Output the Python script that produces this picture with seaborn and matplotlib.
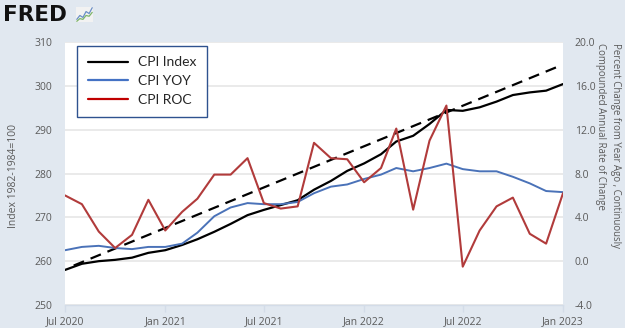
import numpy as np
import pandas as pd
import matplotlib
matplotlib.use("Agg")
import matplotlib.pyplot as plt
import matplotlib.dates as mdates
import seaborn as sns
from matplotlib.lines import Line2D

# ---------------- data ----------------
months = pd.date_range("2020-07-01", "2023-01-01", freq="MS")
cpi_index = [258.0, 259.4, 260.0, 260.3, 260.8, 261.9, 262.5, 263.7, 265.0, 266.7,
             268.5, 270.5, 271.7, 272.8, 273.9, 276.3, 278.3, 280.6, 282.3, 284.4,
             287.3, 288.6, 291.3, 294.5, 294.3, 295.1, 296.4, 297.9, 298.5, 298.9, 300.4]
cpi_yoy = [1.0, 1.3, 1.4, 1.2, 1.1, 1.3, 1.3, 1.6, 2.6, 4.1,
           4.9, 5.3, 5.2, 5.2, 5.4, 6.2, 6.8, 7.0, 7.5, 7.9,
           8.5, 8.2, 8.5, 8.9, 8.4, 8.2, 8.2, 7.7, 7.1, 6.4, 6.3]
cpi_roc = [6.0, 5.2, 2.7, 1.2, 2.4, 5.6, 2.8, 4.5, 5.7, 7.9,
           7.9, 9.4, 5.3, 4.8, 5.0, 10.8, 9.4, 9.3, 7.2, 8.5,
           12.1, 4.7, 11.0, 14.2, -0.5, 2.8, 5.0, 5.8, 2.5, 1.6, 6.2]
trend_dates = pd.to_datetime(["2020-07-17", "2022-12-27"])
trend_values = [259.0, 304.6]

left_ticks = [250, 260, 270, 280, 290, 300, 310]
right_ticks = [-4, 0, 4, 8, 12, 16, 20]
legend_labels = ["CPI Index", "CPI YOY", "CPI ROC"]
logo_a = [1, 2, 1.5, 3, 2.5, 4]
logo_b = [0.5, 1.2, 1.0, 2.0, 1.8, 2.8]

df = pd.DataFrame({"date": months, "index": cpi_index, "yoy": cpi_yoy, "roc": cpi_roc})
trend = pd.DataFrame({"date": trend_dates, "value": trend_values})

# ---------------- style ----------------
sns.set_theme(style="white")
plt.rcParams["font.family"] = ["Open Sans", "DejaVu Sans"]

BG = "#E1E8F0"
TICK = "#5A5A5A"
BLACK = "#000000"
BLUE = "#4A72B8"
RED = "#B13B3B"

fig = plt.figure(figsize=(6.25, 3.28), dpi=100, facecolor=BG)
ax = fig.add_axes([65 / 625, 1 - 305 / 328, 498 / 625, 263 / 328])
ax.set_facecolor("white")
ax2 = ax.twinx()
ax2.patch.set_visible(False)

# left axis series
sns.lineplot(data=df, x="date", y="index", ax=ax, color=BLACK, linewidth=1.6, legend=False)
sns.lineplot(data=trend, x="date", y="value", ax=ax, color=BLACK, linewidth=1.6,
             linestyle=(0, (5, 3.2)), legend=False)
# right axis series
sns.lineplot(data=df, x="date", y="yoy", ax=ax2, color=BLUE, linewidth=1.4, legend=False)
sns.lineplot(data=df, x="date", y="roc", ax=ax2, color=RED, linewidth=1.5, legend=False)

# axes limits / ticks
ax.set_xlim(pd.Timestamp("2020-07-01"), pd.Timestamp("2023-01-01"))
ax.set_ylim(250, 310)
ax2.set_ylim(-4, 20)
ax.set_yticks(left_ticks)
ax2.set_yticks(right_ticks)
ax2.set_yticklabels([f"{v:.1f}" for v in right_ticks])
ax.xaxis.set_major_locator(mdates.MonthLocator(bymonth=[1, 7]))
ax.xaxis.set_major_formatter(mdates.DateFormatter("%b %Y"))

for a in (ax, ax2):
    for s in a.spines.values():
        s.set_visible(False)
ax.spines["bottom"].set_visible(True)
ax.spines["bottom"].set_color("#D3DCE8")
ax.spines["bottom"].set_linewidth(1.0)

ax.grid(axis="y", color="#E8E8E8", linewidth=1.3)
ax.grid(axis="x", visible=False)
ax.set_axisbelow(True)

ax.tick_params(axis="y", length=0, pad=9.2, labelsize=7.5, labelcolor=TICK)
ax2.tick_params(axis="y", length=0, pad=8.4, labelsize=7.5, labelcolor=TICK)
ax.tick_params(axis="x", length=5, width=1, color="#D3DCE8", pad=3, labelsize=7.5,
               labelcolor=TICK, direction="out", bottom=True)

ax.set_xlabel("")
ax.set_ylabel("")
ax2.set_ylabel("")
fig.text(14 / 625, 1 - 176 / 328, "Index 1982-1984=100", rotation=90,
         ha="center", va="center", fontsize=7.5, color=TICK)
fig.text(608 / 625, 1 - 43 / 328,
         "Percent Change from Year Ago , Continuously\nCompounded Annual Rate of Change",
         rotation=270, ha="center", va="top", multialignment="left",
         fontsize=6.9, color=TICK, linespacing=1.53)

# legend
handles = [Line2D([], [], color=BLACK, lw=1.6),
           Line2D([], [], color="#4472C4", lw=1.6),
           Line2D([], [], color="#C00000", lw=1.6)]
leg = ax.legend(handles, legend_labels, loc="upper left", bbox_to_anchor=(0.0247, 0.985),
                borderaxespad=0, frameon=True, fancybox=False, framealpha=1,
                edgecolor="#2F528F", facecolor="white",
                prop={"family": ["Lato", "DejaVu Sans"], "size": 10},
                handlelength=2.9, handletextpad=0.72, labelspacing=0.5,
                borderpad=0.75)
leg.get_frame().set_linewidth(1.0)
leg.set_zorder(10)

# FRED logo
fig.text(3 / 625, 1 - 5 / 328, "FRED", fontsize=15.5, fontweight="heavy",
         family="DejaVu Sans", color="#111111", va="top", ha="left")
lax = fig.add_axes([76 / 625, 1 - 22 / 328, 17 / 625, 15 / 328])
lax.set_facecolor("#F2F2F2")
lax.plot(range(len(logo_a)), logo_a, color="#6A8FC7", lw=0.9)
lax.plot(range(len(logo_b)), logo_b, color="#7DB56A", lw=0.9)
lax.set_xticks([]); lax.set_yticks([])
for s in lax.spines.values():
    s.set_visible(False)

fig.savefig("out.png", dpi=100, facecolor=BG)
